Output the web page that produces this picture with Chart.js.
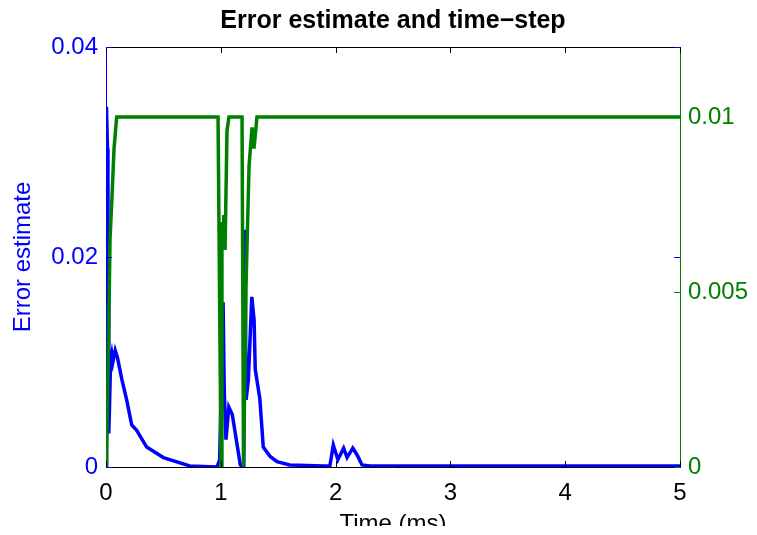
<!DOCTYPE html>
<html>
<head>
<meta charset="utf-8">
<script src="https://cdn.jsdelivr.net/npm/chart.js@4"></script>
<style>
  html,body{margin:0;padding:0;background:#fff}
  #wrap{width:757px;height:535px}
</style>
</head>
<body>
<div id="wrap"><canvas id="c" width="757" height="535"></canvas></div>
<script>
// ---- data ----
const errT = [0, 0.004, 0.013, 0.017, 0.022, 0.024, 0.03, 0.04, 0.05, 0.06, 0.08, 0.1, 0.139, 0.18, 0.224, 0.267, 0.354, 0.5, 0.73, 0.967,
  0.99, 1.02, 1.03, 1.045, 1.07, 1.1, 1.135, 1.17, 1.2,
  1.21, 1.22, 1.24, 1.27, 1.29, 1.3, 1.34, 1.37, 1.43, 1.49, 1.6, 1.9,
  1.95, 1.98, 2.02, 2.07, 2.1, 2.15, 2.19, 2.23, 2.3, 5];
const errVal = [0, 0.0343, 0.0303, 0.0228, 0.0217, 0.0032, 0.0055, 0.0102, 0.0108, 0.0100, 0.0111, 0.0104, 0.0083, 0.0064, 0.0040, 0.0035, 0.0019, 0.0009, 0.0001, 0,
  0.0007, 0.0157, 0.0073, 0.0026, 0.0057, 0.0050, 0.0026, 0.0002, 0,
  0.0226, 0.0064, 0.0083, 0.0162, 0.0140, 0.0093, 0.0065, 0.0019, 0.0010, 0.0005, 0.0002, 0.0001,
  0.0001, 0.0021, 0.0007, 0.0018, 0.0009, 0.0018, 0.0011, 0.0002, 0.0001, 0.0001];

const stepT = [0, 0.006, 0.023, 0.035, 0.052, 0.07, 0.093, 0.976, 1.002, 1.01, 1.02, 1.025, 1.037, 1.054, 1.071, 1.185, 1.198, 1.22, 1.246, 1.272, 1.289, 1.315, 5];
const stepVal = [0, 0.0005, 0.0038, 0.0065, 0.0077, 0.0091, 0.01, 0.01, 0, 0.0070, 0.0065, 0.0072, 0.0062, 0.0096, 0.01, 0.01, 0, 0.0052, 0.0086, 0.0097, 0.0091, 0.01, 0.01];

const xTicks = [0, 1, 2, 3, 4, 5];
const errTicks = [0, 0.02, 0.04];
const stepTicks = [0, 0.005, 0.01];

const BLUE = '#0000ff', GREEN = '#008000';
const FONT = 'Liberation Sans, Arial, Helvetica, sans-serif';

function pts(xs, ys){ return xs.map((x,i)=>({x:x, y:ys[i]})); }
function setTicks(list){ return function(s){ s.ticks = list.map(v=>({value:v})); }; }

// inward tick marks + box top line, MATLAB style
const boxTicks = {
  id:'boxTicks',
  afterDraw(chart){
    const {ctx, chartArea:a, scales} = chart;
    const L = 6;
    ctx.save();
    ctx.lineWidth = 1;
    ctx.strokeStyle = '#000';
    ctx.beginPath(); ctx.moveTo(a.left, a.top+0.5); ctx.lineTo(a.right, a.top+0.5); ctx.stroke();
    xTicks.forEach(v=>{
      const x = Math.round(scales.x.getPixelForValue(v))+0.5;
      ctx.beginPath();
      ctx.moveTo(x, a.bottom); ctx.lineTo(x, a.bottom-L);
      ctx.moveTo(x, a.top); ctx.lineTo(x, a.top+L);
      ctx.stroke();
    });
    ctx.strokeStyle = BLUE;
    errTicks.forEach(v=>{
      const y = Math.round(scales.y.getPixelForValue(v))+0.5;
      ctx.beginPath();
      ctx.moveTo(a.left, y); ctx.lineTo(a.left+L, y);
      ctx.moveTo(a.right, y); ctx.lineTo(a.right-L, y);
      ctx.stroke();
    });
    ctx.strokeStyle = GREEN;
    stepTicks.forEach(v=>{
      const y = Math.round(scales.y2.getPixelForValue(v))+0.5;
      ctx.beginPath(); ctx.moveTo(a.right, y); ctx.lineTo(a.right-L, y); ctx.stroke();
    });
    // figure is cut off below the x label
    ctx.fillStyle = '#fff';
    ctx.fillRect(0, 526, chart.width, chart.height-526);
    ctx.restore();
  }
};

new Chart(document.getElementById('c'), {
  type:'line',
  data:{datasets:[
    {label:'Time-step', data:pts(stepT, stepVal), yAxisID:'y2', borderColor:GREEN, borderWidth:3.5, pointRadius:0, tension:0, order:1},
    {label:'Error estimate', data:pts(errT, errVal), yAxisID:'y', borderColor:BLUE, borderWidth:3.5, pointRadius:0, tension:0, order:2}
  ]},
  options:{
    responsive:false, animation:false,
    layout:{padding:0},
    plugins:{
      legend:{display:false}, tooltip:{enabled:false},
      title:{display:true, fullSize:false, text:'Error estimate and time\u2212step', color:'#000',
        font:{family:FONT, size:25, weight:'bold'}, padding:{top:6, bottom:11}}
    },
    scales:{
      x:{type:'linear', min:0, max:5, afterBuildTicks:setTicks(xTicks),
        afterFit(s){ s.height = 68; },
        grid:{display:false, drawTicks:false},
        border:{display:true, color:'#000', width:1},
        ticks:{color:'#000', padding:12, font:{family:FONT, size:24}, maxRotation:0},
        title:{display:true, text:'Time (ms)', color:'#000', font:{family:FONT, size:24}, padding:{top:0, bottom:-4}}
      },
      y:{type:'linear', position:'left', min:0, max:0.04, afterBuildTicks:setTicks(errTicks),
        afterFit(s){ s.width = 106; },
        grid:{display:false, drawTicks:false},
        border:{display:true, color:BLUE, width:1},
        ticks:{color:BLUE, padding:8, font:{family:FONT, size:24}, callback:v=>String(v)},
        title:{display:true, text:'Error estimate', color:BLUE, font:{family:FONT, size:24}, padding:{top:9, bottom:0}}
      },
      y2:{type:'linear', position:'right', min:0, max:0.012, afterBuildTicks:setTicks(stepTicks),
        afterFit(s){ s.width = 77; },
        grid:{display:false, drawTicks:false},
        border:{display:true, color:GREEN, width:1},
        ticks:{color:GREEN, padding:8, font:{family:FONT, size:24}, callback:v=>String(v)}
      }
    }
  },
  plugins:[boxTicks]
});
</script>
</body>
</html>
